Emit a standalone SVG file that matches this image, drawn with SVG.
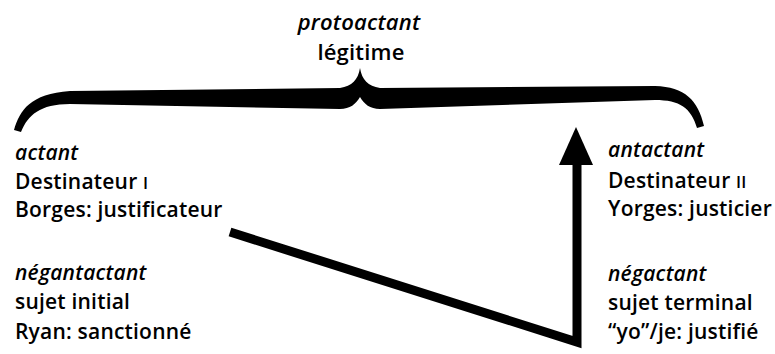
<svg xmlns="http://www.w3.org/2000/svg" width="775" height="354" viewBox="0 0 775 354">
  <style>
    text { font-family: "Open Sans", "Liberation Sans", sans-serif; font-size: 21px; font-weight: 600; fill: #000; letter-spacing: 0.2px; }
    .role { font-style: italic; }
    .top { font-size: 22px; }
    .sc { font-size: 16.5px; }
    .ink { fill: #000; }
    .stroke { fill: none; stroke: #000; stroke-width: 9; stroke-linejoin: miter; }
  </style>

  <!-- top term -->
  <g id="protoactant">
    <text class="role top" x="359" y="30" text-anchor="middle">protoactant</text>
    <text class="top" x="361" y="60" text-anchor="middle">légitime</text>
  </g>

  <!-- connectors: brace over the two upper terms, and the path between the lower terms -->
  <g id="connectors">
    <path class="ink" d="M14 130 C 20 110, 30 94, 70 91 L 340 88 C 352 86, 358 80, 360 68 C 362 80, 368 86, 380 88 L 655 86 C 685 87, 698 100, 704 126 L 697 128 C 691 108, 680 100, 655 100 L 380 109 C 370 109, 364 104, 360 97 C 356 104, 350 109, 340 109 L 70 104 C 40 104, 28 115, 21 132 Z"/>
    <path class="stroke" d="M230 232 L 577 342 L 577 165"/>
    <path class="ink" d="M576 127 L 593 165 L 559 165 Z"/>
  </g>

  <g id="actant">
    <text class="role" x="15" y="160">actant</text>
    <text x="15" y="189">Destinateur <tspan class="sc">I</tspan></text>
    <text x="15" y="217">Borges: justificateur</text>
  </g>

  <g id="antactant">
    <text class="role" x="608" y="157">antactant</text>
    <text x="608" y="188">Destinateur <tspan class="sc">II</tspan></text>
    <text x="608" y="216">Yorges: justicier</text>
  </g>

  <g id="negantactant">
    <text class="role" x="15" y="280">négantactant</text>
    <text x="15" y="309">sujet initial</text>
    <text x="15" y="339">Ryan: sanctionné</text>
  </g>

  <g id="negactant">
    <text class="role" x="608" y="281">négactant</text>
    <text x="608" y="310">sujet terminal</text>
    <text x="608" y="339">“yo”/je: justifié</text>
  </g>
</svg>
